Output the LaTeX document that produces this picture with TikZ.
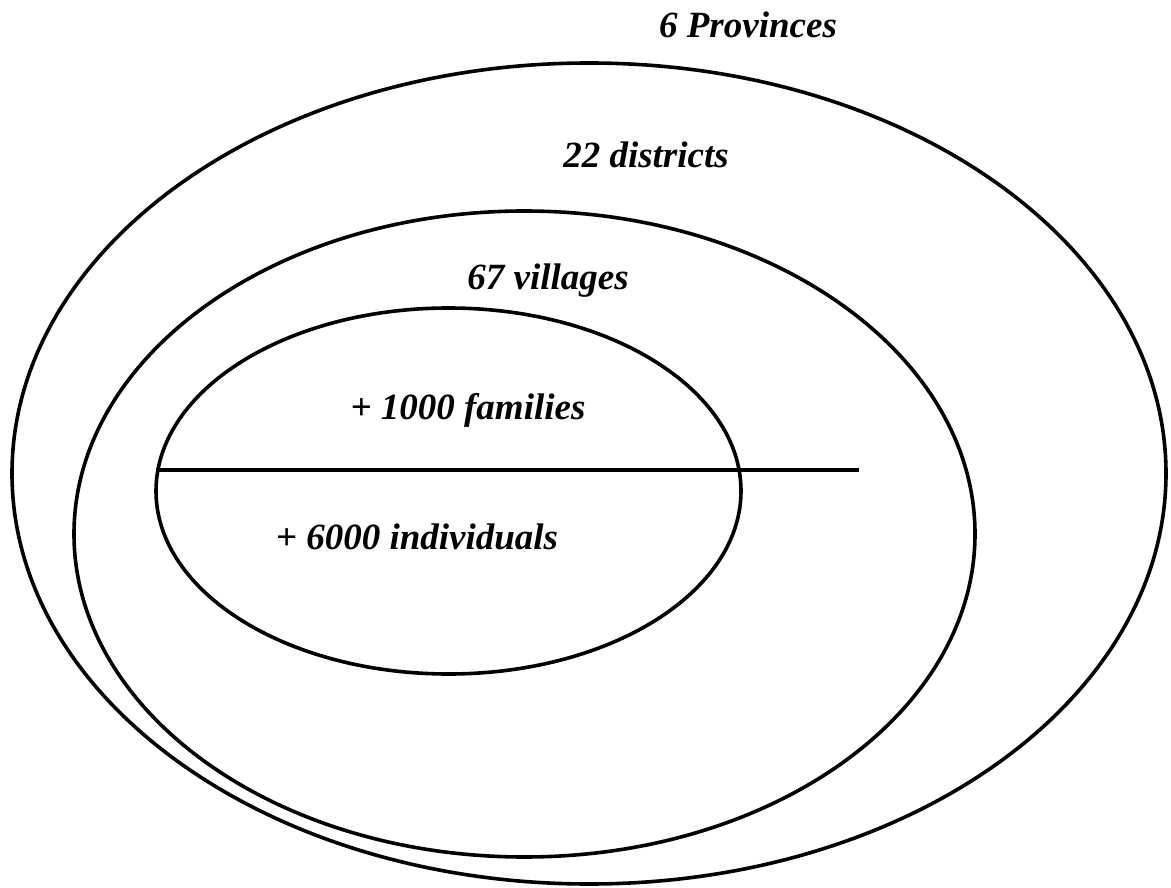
\documentclass[tikz,border=0pt]{standalone}
\usepackage{fontspec}
\setmainfont{Liberation Serif}
\begin{document}
\begin{tikzpicture}[x=1pt,y=-1pt,
  ring/.style={draw=black,line width=3.6pt},
  lbl/.style={font=\fontsize{37}{40}\selectfont\bfseries\itshape,inner sep=0pt}]
\useasboundingbox (0,0) rectangle (1171,888);
\draw[ring] (589,473.5) ellipse [x radius=577, y radius=410.5];
\draw[ring] (524.5,534) ellipse [x radius=450.5, y radius=323];
\draw[ring] (448.5,491) ellipse [x radius=292.5, y radius=183];
\coordinate (la) at (156,470);
\coordinate (lb) at (859,470);
\draw[line width=3.2pt] (la) -- (lb);
\node[lbl] (prov) at (748,25) {6 Provinces};
\node[lbl] (dist) at (646,155) {22 districts};
\node[lbl] (vill) at (548,281) {67 villages};
\node[lbl] (fam) at (468,410) {+ 1000 families};
\node[lbl] (ind) at (417,537) {+ 6000 individuals};
\end{tikzpicture}
\end{document}
